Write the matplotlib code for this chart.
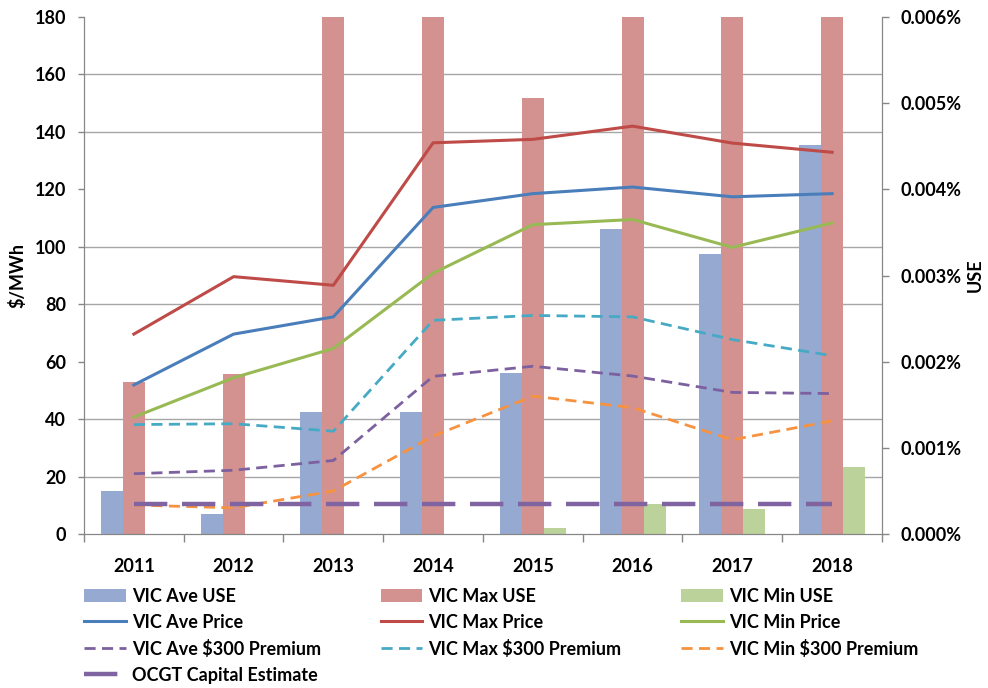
import numpy as np
import matplotlib
matplotlib.use("Agg")
from matplotlib import pyplot as plt
from matplotlib.ticker import MultipleLocator, FuncFormatter

plt.rcParams['font.family'] = ['Lato', 'DejaVu Sans']
plt.rcParams['font.weight'] = 'bold'

years = ['2011', '2012', '2013', '2014', '2015', '2016', '2017', '2018']

# USE bars (percent, right axis)
ave_use = [0.000503, 0.000229, 0.00142, 0.00142, 0.00187, 0.00354, 0.00325, 0.00451]
max_use = [0.00177, 0.00186, 0.0075, 0.0075, 0.00506, 0.0075, 0.0075, 0.0075]
min_use = [0.0, 0.0, 0.0, 0.0, 0.0000666, 0.000354, 0.000295, 0.000782]

# prices ($/MWh, left axis)
ave_price = [51.9, 69.6, 75.6, 113.7, 118.5, 120.8, 117.4, 118.5]
max_price = [69.6, 89.6, 86.6, 136.2, 137.4, 142.0, 136.1, 132.9]
min_price = [40.7, 54.4, 64.6, 90.8, 107.7, 109.5, 99.8, 108.3]
ave_prem = [21.0, 22.2, 25.6, 54.9, 58.4, 55.0, 49.3, 48.9]
max_prem = [38.1, 38.4, 35.8, 74.4, 76.1, 75.6, 67.7, 62.1]
min_prem = [10.1, 9.1, 15.0, 34.1, 48.0, 44.0, 32.8, 39.4]
ocgt = [10.6] * 8

x = np.arange(len(years))

fig = plt.figure(figsize=(9.88, 6.88), dpi=100)
ax = fig.add_axes([0.085, 0.2238, 0.8077, 0.7515])
axr = ax.twinx()

# bars go on the right (USE) axis, under the price lines
ax.set_zorder(axr.get_zorder() + 1)
ax.patch.set_visible(False)

w = 0.22
b1 = axr.bar(x - w, ave_use, w, color="#95A9D1", label="VIC Ave USE")
b2 = axr.bar(x, max_use, w, color="#D39290", label="VIC Max USE")
b3 = axr.bar(x + w, min_use, w, color="#BBD39B", label="VIC Min USE")

l1, = ax.plot(x, ave_price, lw=2.2, color="#4A7EBB", label="VIC Ave Price")
l2, = ax.plot(x, max_price, lw=2.2, color="#BE4B48", label="VIC Max Price")
l3, = ax.plot(x, min_price, lw=2.2, color="#98B954", label="VIC Min Price")
l4, = ax.plot(x, ave_prem, lw=2.0, color="#7D60A0", dashes=(4, 2.3), label="VIC Ave $300 Premium")
l5, = ax.plot(x, max_prem, lw=2.0, color="#46AAC5", dashes=(4, 2.3), label="VIC Max $300 Premium")
l6, = ax.plot(x, min_prem, lw=2.0, color="#F69240", dashes=(4, 2.3), label="VIC Min $300 Premium")
l7, = ax.plot(x, ocgt, lw=3.2, color="#8064A2", dashes=(7.5, 3.3), label="OCGT Capital Estimate")

ax.set_xlim(-0.5, 7.5)
ax.set_ylim(0, 180)
axr.set_ylim(0, 0.006)

ax.yaxis.set_major_locator(MultipleLocator(20))
axr.yaxis.set_major_locator(MultipleLocator(0.001))
axr.yaxis.set_major_formatter(FuncFormatter(lambda v, p: "%.3f%%" % v))
# gridlines live on the bar axis so the bars cover them
axr.yaxis.set_minor_locator(MultipleLocator(0.006 / 9))
axr.grid(True, which='minor', axis='y', color="#A6A6A6", lw=1.0)
axr.set_axisbelow(True)
axr.tick_params(axis='y', which='minor', length=0)

ax.set_xticks(x)
ax.set_xticklabels(years)
ax.set_xticks(np.arange(-0.5, 8.0, 1.0), minor=True)
ax.tick_params(axis='x', which='major', length=0, pad=17, labelsize=13)
ax.tick_params(axis='x', which='minor', length=6, color="#868686", width=1)
ax.tick_params(axis='y', length=4, color="#868686", width=1, labelsize=13, pad=9)
axr.tick_params(axis='y', which='major', length=5, color="#868686", width=1, labelsize=13, pad=8)

for a in (ax, axr):
    for s in a.spines.values():
        s.set_color("#868686")
    a.spines['top'].set_visible(False)

ax.set_ylabel("$/MWh", fontsize=13, fontweight='bold', labelpad=6)
axr.set_ylabel("USE", fontsize=13, fontweight='bold', labelpad=4)

handles = [b1, l1, l4, l7, b2, l2, l5, b3, l3, l6]
labels = [h.get_label() for h in handles]
fig.legend(handles, labels, ncol=3, loc='upper left', bbox_to_anchor=(0.085, 0.146),
           frameon=False, fontsize=13, handlelength=2.3, handletextpad=0.35,
           columnspacing=3.3, labelspacing=0.5, borderpad=0, borderaxespad=0)

fig.savefig("out.png", dpi=100)
